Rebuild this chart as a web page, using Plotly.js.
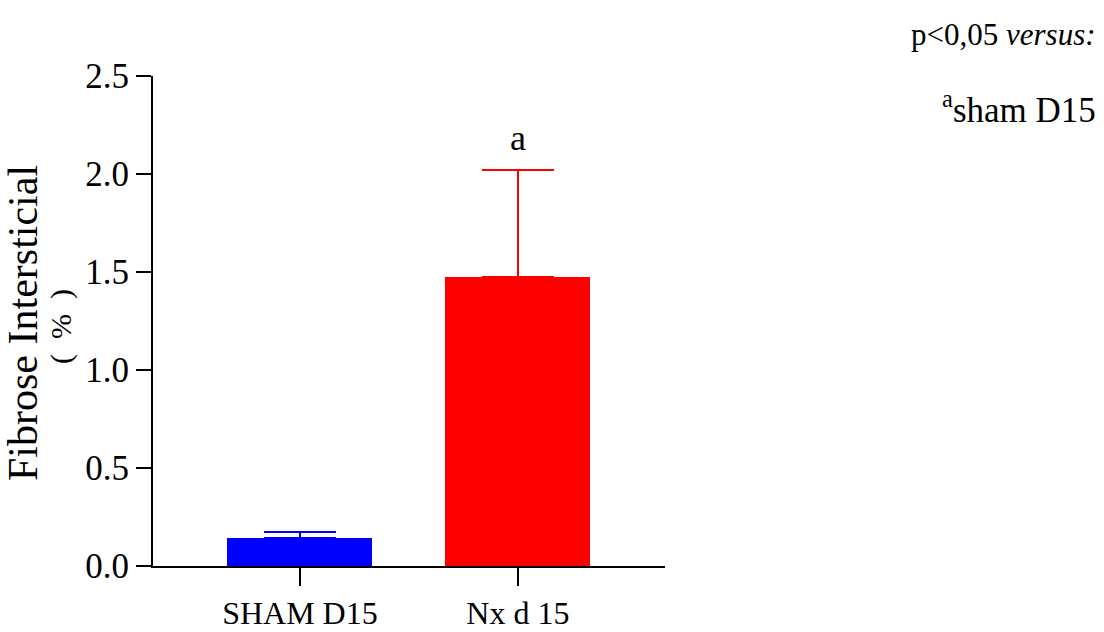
<!DOCTYPE html>
<html>
<head>
<meta charset="utf-8">
<script src="https://cdn.plot.ly/plotly-3.0.1.min.js"></script>
<style>html,body{margin:0;padding:0;background:#fff;}#chart{width:1104px;height:632px;}</style>
</head>
<body>
<div id="chart"></div>
<script>
const categories = ["SHAM D15", "Nx d 15"];
const values = [0.143, 1.474];
const errors = [0.03, 0.548];
const barColors = ["#0000FF", "#FF0000"];
const yTickVals = [0, 0.5, 1.0, 1.5, 2.0, 2.5];
const yTickText = ["0.0", "0.5", "1.0", "1.5", "2.0", "2.5"];
const sigLabels = ["", "a"];

const serif = "Liberation Serif, Times New Roman, serif";

const traces = categories.map((c, i) => ({
  type: "bar",
  x: [c],
  y: [values[i]],
  width: 0.665,
  marker: {color: barColors[i], line: {width: 0}},
  error_y: {type: "data", array: [errors[i]], arrayminus: [0], symmetric: false,
            color: barColors[i], thickness: 2, width: 36},
  showlegend: false,
  hoverinfo: "skip"
}));

const annotations = [];
categories.forEach((c, i) => {
  if (sigLabels[i]) {
    annotations.push({xref: "x", yref: "y", x: c, y: values[i] + errors[i],
      text: sigLabels[i], showarrow: false, yanchor: "bottom", yshift: 10,
      font: {family: serif, size: 36, color: "#000"}});
  }
});
annotations.push(
  {xref: "paper", yref: "paper", x: 1.845, y: 1.084, xanchor: "right", yanchor: "middle",
   text: "p<0,05 <i>versus:</i>", showarrow: false, font: {family: serif, size: 31, color: "#000"}},
  {xref: "paper", yref: "paper", x: 1.845, y: 0.935, xanchor: "right", yanchor: "middle",
   text: "<sup>a</sup>sham D15", showarrow: false, font: {family: serif, size: 35, color: "#000"}},
  {xref: "paper", yref: "paper", x: (23 - 153) / 512, y: (566 - 323) / 490, xanchor: "center", yanchor: "middle",
   text: "Fibrose Intersticial", textangle: -90, showarrow: false, font: {family: serif, size: 42, color: "#000"}},
  {xref: "paper", yref: "paper", x: (61 - 153) / 512, y: (566 - 327) / 490, xanchor: "center", yanchor: "middle",
   text: "(&nbsp;&nbsp;%&nbsp;&nbsp;)", textangle: -90, showarrow: false, font: {family: serif, size: 30, color: "#000"}}
);

const layout = {
  width: 1104, height: 632,
  margin: {l: 153, r: 439, t: 76, b: 66, pad: 0},
  paper_bgcolor: "#fff", plot_bgcolor: "#fff",
  bargap: 0,
  xaxis: {type: "category", range: [-0.674, 1.675], showline: true, linecolor: "#000", linewidth: 2,
          ticks: "outside", ticklen: 18, tickwidth: 2, tickcolor: "#000", showgrid: false, zeroline: false,
          tickfont: {family: serif, size: 32, color: "#000"}, fixedrange: true},
  yaxis: {range: [0, 2.5], showline: true, linecolor: "#000", linewidth: 2,
          ticks: "outside", ticklen: 15, tickwidth: 2, tickcolor: "#000", showgrid: false, zeroline: false,
          tickvals: yTickVals, ticktext: yTickText, ticklabelstandoff: 0,
          tickfont: {family: serif, size: 35, color: "#000"}, fixedrange: true},
  annotations: annotations
};

Plotly.newPlot("chart", traces, layout, {displayModeBar: false, staticPlot: true});
</script>
</body>
</html>
